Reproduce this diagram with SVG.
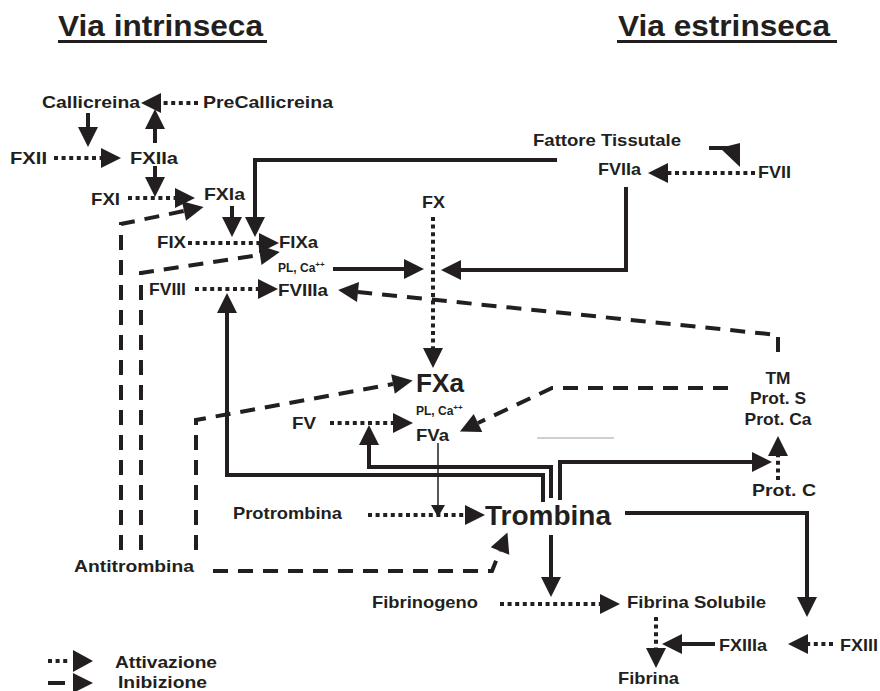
<svg xmlns="http://www.w3.org/2000/svg" width="880" height="691" viewBox="0 0 880 691">
<style>
.t{font-family:"Liberation Sans",Arial,sans-serif;font-weight:bold;fill:#231f20;font-size:17px}
.sm{font-size:12px}
.big{font-size:26px}
.ttl{font-size:29px}
.c{fill:none;stroke:#231f20;stroke-width:4}
.dot{stroke-dasharray:4 3.6}
.dash{stroke-dasharray:15 10}
.thin{stroke-width:1.5}
</style>
<defs>
<marker id="ah" markerUnits="userSpaceOnUse" markerWidth="20" markerHeight="20" viewBox="0 0 20 20" refX="0" refY="10" orient="auto" overflow="visible"><path d="M0,0 L20,10 L0,20 z" fill="#231f20"/></marker>
<marker id="as" markerUnits="userSpaceOnUse" markerWidth="12" markerHeight="14" viewBox="0 0 12 14" refX="0" refY="7" orient="auto" overflow="visible"><path d="M0,0 L12,7 L0,14 z" fill="#231f20"/></marker>
</defs>
<rect width="880" height="691" fill="#fff"/>

<g id="titles">
<text class="t ttl" x="58" y="36" textLength="205" lengthAdjust="spacingAndGlyphs">Via intrinseca</text>
<rect x="58" y="40" width="209" height="3" fill="#231f20"/>
<text class="t ttl" x="618" y="36" textLength="212" lengthAdjust="spacingAndGlyphs">Via estrinseca</text>
<rect x="617" y="40" width="220" height="3" fill="#231f20"/>
</g>

<g id="connectors">
<path class="c dot" d="M198,103 H161" marker-end="url(#ah)"/>
<path class="c" d="M155,143 V129" marker-end="url(#ah)"/>
<path class="c" d="M88,113 V127" marker-end="url(#ah)"/>
<path class="c dot" d="M54,158 H101" marker-end="url(#ah)"/>
<path class="c" d="M155,166 V177" marker-end="url(#ah)"/>
<path class="c dot" d="M128,198 H175" marker-end="url(#ah)"/>
<path class="c dash" d="M121,550 V224 L184,211" marker-end="url(#ah)"/>
<path class="c" d="M232,206 V217" marker-end="url(#ah)"/>
<path class="c" d="M557,160 H255 V217" marker-end="url(#ah)"/>
<path class="c dot" d="M188,243 H259" marker-end="url(#ah)"/>
<path class="c dash" d="M141,550 V273 L260,255" marker-end="url(#ah)"/>
<path class="c" d="M333,269 H404" marker-end="url(#ah)"/>
<path class="c" d="M626,187 V270 H461" marker-end="url(#ah)"/>
<path class="c dot" d="M433,217 V348" marker-end="url(#ah)"/>
<path class="c dot" d="M195,289 H258" marker-end="url(#ah)"/>
<path class="c dash" d="M778,352 V335 L358,292" marker-end="url(#ah)"/>
<path class="c" d="M543,502 V475 H227 V313" marker-end="url(#ah)"/>
<path class="c" d="M551,498 V467 H369 V445" marker-end="url(#ah)"/>
<path class="c" d="M560,500 V462 H752" marker-end="url(#ah)"/>
<path class="c dot" d="M778,480 V456" marker-end="url(#ah)"/>
<path class="c dash" d="M728,388 H552 L478,423" marker-end="url(#ah)"/>
<path class="c dash" d="M196,550 V420 L393,384" marker-end="url(#ah)"/>
<path class="c dot" d="M330,423 H393" marker-end="url(#ah)"/>
<path class="c thin" d="M438,443 V505" marker-end="url(#as)"/>
<path class="c dot" d="M368,515 H465" marker-end="url(#ah)"/>
<path class="c dash" d="M213,571 H492 L500,551" marker-end="url(#ah)"/>
<path class="c" d="M625,513 H807 V597" marker-end="url(#ah)"/>
<path class="c" d="M551,535 V577" marker-end="url(#ah)"/>
<path class="c dot" d="M500,604 H600" marker-end="url(#ah)"/>
<path class="c dot" d="M656,617 V648" marker-end="url(#ah)"/>
<path class="c" d="M715,644 H682" marker-end="url(#ah)"/>
<path class="c dot" d="M833,644 H808" marker-end="url(#ah)"/>
<path class="c dot" d="M755,173 H668" marker-end="url(#ah)"/>
<path class="c" d="M709,148 H730"/>
<path d="M720,148 L740,143 L740,167 z" fill="#231f20"/>
<path d="M537,438 H614" stroke="#a0a0a0" stroke-width="1" fill="none"/>
</g>

<g id="legend">
<path class="c dot" d="M48,661 H70"/>
<path d="M73,650 L93,661 L73,672 z" fill="#231f20"/>
<text class="t" x="115" y="668" textLength="102" lengthAdjust="spacingAndGlyphs">Attivazione</text>
<path class="c" d="M48,683 H65"/>
<path d="M73,673 L93,683 L73,693 z" fill="#231f20"/>
<text class="t" x="118" y="688" textLength="89" lengthAdjust="spacingAndGlyphs">Inibizione</text>
</g>

<g id="callicreina"><text class="t" x="42" y="108" textLength="98" lengthAdjust="spacingAndGlyphs">Callicreina</text></g>
<g id="precallicreina"><text class="t" x="203" y="108" textLength="130" lengthAdjust="spacingAndGlyphs">PreCallicreina</text></g>
<g id="fxii"><text class="t" x="10" y="164" textLength="37" lengthAdjust="spacingAndGlyphs">FXII</text></g>
<g id="fxiia"><text class="t" x="130" y="164" textLength="48" lengthAdjust="spacingAndGlyphs">FXIIa</text></g>
<g id="fxi"><text class="t" x="91" y="205" textLength="29" lengthAdjust="spacingAndGlyphs">FXI</text></g>
<g id="fxia"><text class="t" x="204" y="200" textLength="41" lengthAdjust="spacingAndGlyphs">FXIa</text></g>
<g id="fix"><text class="t" x="157" y="248" textLength="29" lengthAdjust="spacingAndGlyphs">FIX</text></g>
<g id="fixa"><text class="t" x="279" y="248" textLength="39" lengthAdjust="spacingAndGlyphs">FIXa</text></g>
<g id="plca1"><text class="t sm" x="278" y="272">PL, Ca<tspan font-size="8" dy="-5">++</tspan></text></g>
<g id="fviii"><text class="t" x="149" y="295" textLength="37" lengthAdjust="spacingAndGlyphs">FVIII</text></g>
<g id="fviiia"><text class="t" x="278" y="296" textLength="50" lengthAdjust="spacingAndGlyphs">FVIIIa</text></g>
<g id="fattore"><text class="t" x="533" y="146" textLength="148" lengthAdjust="spacingAndGlyphs">Fattore Tissutale</text></g>
<g id="fviia"><text class="t" x="598" y="175" textLength="43" lengthAdjust="spacingAndGlyphs">FVIIa</text></g>
<g id="fvii"><text class="t" x="758" y="178" textLength="33" lengthAdjust="spacingAndGlyphs">FVII</text></g>
<g id="fx"><text class="t" x="422" y="208" textLength="23" lengthAdjust="spacingAndGlyphs">FX</text></g>
<g id="fxa"><text class="t big" x="416" y="392" textLength="48" lengthAdjust="spacingAndGlyphs">FXa</text></g>
<g id="plca2"><text class="t sm" x="416" y="415">PL, Ca<tspan font-size="8" dy="-5">++</tspan></text></g>
<g id="fva"><text class="t" x="416" y="441" textLength="33" lengthAdjust="spacingAndGlyphs">FVa</text></g>
<g id="fv"><text class="t" x="292" y="429" textLength="24" lengthAdjust="spacingAndGlyphs">FV</text></g>
<g id="tm">
<text class="t" x="778" y="384" text-anchor="middle" textLength="25" lengthAdjust="spacingAndGlyphs">TM</text>
<text class="t" x="778" y="404" text-anchor="middle" textLength="56" lengthAdjust="spacingAndGlyphs">Prot. S</text>
<text class="t" x="778" y="425" text-anchor="middle" textLength="67" lengthAdjust="spacingAndGlyphs">Prot. Ca</text>
</g>
<g id="protc"><text class="t" x="752" y="496" textLength="64" lengthAdjust="spacingAndGlyphs">Prot. C</text></g>
<g id="protrombina"><text class="t" x="233" y="519" textLength="109" lengthAdjust="spacingAndGlyphs">Protrombina</text></g>
<g id="trombina"><text class="t" style="font-size:27px" x="485" y="525" textLength="126" lengthAdjust="spacingAndGlyphs">Trombina</text></g>
<g id="antitrombina"><text class="t" x="74" y="572" textLength="120" lengthAdjust="spacingAndGlyphs">Antitrombina</text></g>
<g id="fibrinogeno"><text class="t" x="372" y="608" textLength="106" lengthAdjust="spacingAndGlyphs">Fibrinogeno</text></g>
<g id="fibrinasol"><text class="t" x="627" y="608" textLength="139" lengthAdjust="spacingAndGlyphs">Fibrina Solubile</text></g>
<g id="fxiiia"><text class="t" x="719" y="651" textLength="48" lengthAdjust="spacingAndGlyphs">FXIIIa</text></g>
<g id="fxiii"><text class="t" x="840" y="651" textLength="38" lengthAdjust="spacingAndGlyphs">FXIII</text></g>
<g id="fibrina"><text class="t" x="618" y="684" textLength="61" lengthAdjust="spacingAndGlyphs">Fibrina</text></g>
</svg>
